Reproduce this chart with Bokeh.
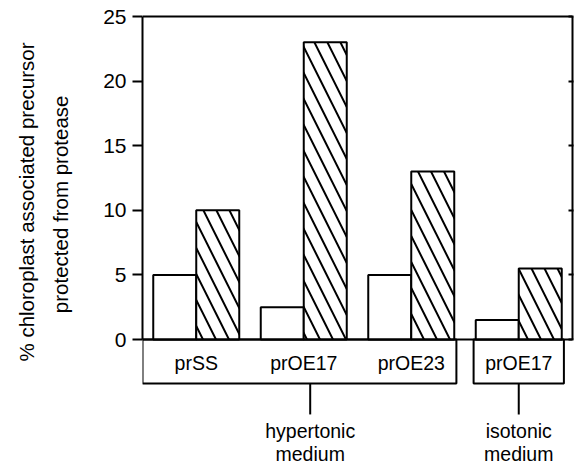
from bokeh.plotting import figure
from bokeh.models import Range1d, LinearAxis, FixedTicker, Title, ColumnDataSource
from bokeh.core.properties import value
from bokeh.embed import file_html
from bokeh.resources import INLINE

# ---- data ----
constructs = ["prSS", "prOE17", "prOE23", "prOE17"]
media = ["hypertonic", "hypertonic", "hypertonic", "isotonic"]
open_bars = [5, 2.5, 5, 1.5]
hatched_bars = [10, 23, 13, 5.5]
y_ticks = [0, 5, 10, 15, 20, 25]
ylabel_lines = ["% chloroplast associated precursor", "protected from protease"]
medium_names = ["hypertonic", "isotonic"]
medium_word = "medium"

FONT = "Liberation Sans"

# ---- layout ----
n = len(constructs)
centers = [1.25 + 2.5 * i for i in range(n)]
bar_w = 1.0
y_max = y_ticks[-1]

p = figure(width=580, height=466,
           x_range=Range1d(0, 10), y_range=Range1d(-9.83, 26.24),
           output_backend="svg", toolbar_location=None,
           x_axis_type=None, y_axis_type=None,
           min_border_left=142, min_border_right=8,
           min_border_top=0, min_border_bottom=0)
p.grid.visible = False
p.outline_line_color = None
p.background_fill_color = "white"
p.border_fill_color = "white"

yaxis = LinearAxis(ticker=FixedTicker(ticks=y_ticks), bounds=(0, y_max),
                   axis_line_width=2, axis_line_color="black",
                   major_tick_line_width=2, major_tick_out=10, major_tick_in=0,
                   minor_tick_out=0, minor_tick_in=0,
                   major_label_text_font=FONT, major_label_text_font_size="21px",
                   major_label_text_color="black", major_label_standoff=6)
p.add_layout(yaxis, "left")

raxis = LinearAxis(ticker=FixedTicker(ticks=y_ticks), bounds=(0, y_max),
                   axis_line_width=2, axis_line_color="black",
                   major_tick_line_width=2, major_tick_out=1, major_tick_in=4,
                   minor_tick_out=0, minor_tick_in=0,
                   major_label_overrides={t: "" for t in y_ticks},
                   major_label_standoff=0)
p.add_layout(raxis, "right")

# y-axis title, two lines (inner line added first)
p.add_layout(Title(text=ylabel_lines[1], align="right", offset=95, standoff=57,
                   text_font=FONT, text_font_size="20.5px", text_font_style="normal",
                   text_color="black"), "left")
p.add_layout(Title(text=ylabel_lines[0], align="right", offset=42, standoff=-39,
                   text_font=FONT, text_font_size="20.5px", text_font_style="normal",
                   text_color="black"), "left")

# frame top and zero lines
p.segment(x0=[0, 0], x1=[10, 10], y0=[y_max, 0], y1=[y_max, 0],
          line_color="black", line_width=2)

# bars
src = ColumnDataSource(dict(
    c=centers, open=open_bars, hatch=hatched_bars,
    l_open=[c - bar_w for c in centers], r_hatch=[c + bar_w for c in centers]))
p.quad(left="l_open", right="c", bottom=0, top="open", source=src,
       fill_color="white", line_color="black", line_width=2)
p.quad(left="c", right="r_hatch", bottom=0, top="hatch", source=src,
       fill_color="white", line_color="black", line_width=2,
       hatch_pattern="\\", hatch_color="black", hatch_weight=2, hatch_scale=26)

# group boxes under the axis
box_bottom = -3.4
box_l, box_r, conn_x = [], [], []
for m in medium_names:
    idx = [i for i, mm in enumerate(media) if mm == m]
    l = centers[idx[0]] - bar_w - 0.05
    if idx[0] == 0:
        l = 0
    r = centers[idx[-1]] + bar_w + 0.05
    box_l.append(l)
    box_r.append(r)
    conn_x.append(sum(centers[i] for i in idx) / len(idx) + (0.15 if len(idx) > 1 else 0))
p.quad(left=box_l, right=box_r, top=0, bottom=box_bottom,
       fill_color=None, line_color="black", line_width=2)

p.text(x=centers, y=[-1.82] * n, text=constructs,
       text_font=value(FONT), text_font_size="19.5px", text_color="black",
       text_align="center", text_baseline="alphabetic")

p.segment(x0=conn_x, x1=conn_x, y0=[box_bottom] * len(conn_x), y1=[-5.8] * len(conn_x),
          line_color="black", line_width=2)
p.text(x=conn_x, y=[-7.05] * len(conn_x), text=medium_names,
       text_font=value(FONT), text_font_size="19.5px", text_color="black",
       text_align="center", text_baseline="alphabetic")
p.text(x=conn_x, y=[-8.9] * len(conn_x), text=[medium_word] * len(conn_x),
       text_font=value(FONT), text_font_size="19.5px", text_color="black",
       text_align="center", text_baseline="alphabetic")

open("out.html", "w").write(file_html(p, INLINE))
